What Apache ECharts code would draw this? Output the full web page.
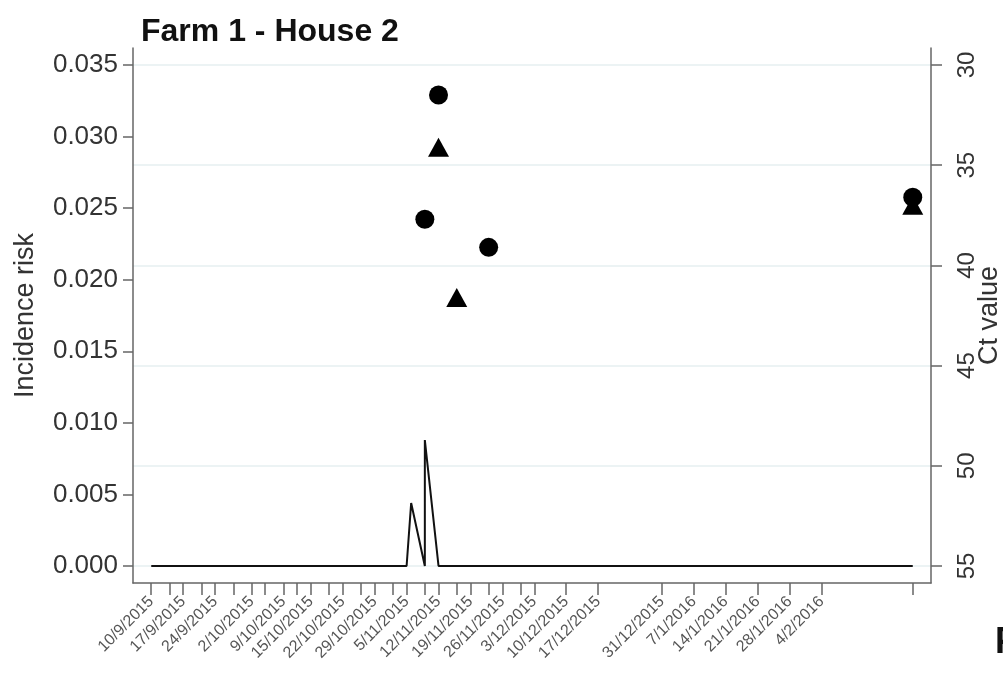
<!DOCTYPE html>
<html>
<head>
<meta charset="utf-8">
<script src="https://cdn.jsdelivr.net/npm/echarts@6/dist/echarts.min.js"></script>
<style>
html, body { margin: 0; padding: 0; background: #fff; }
#chart { width: 1003px; height: 675px; }
</style>
</head>
<body>
<div id="chart"></div>
<script>
// sampling dates = every tick on the x axis
const sampleDates = [
  '2015-09-10', '2015-09-14', '2015-09-17', '2015-09-21', '2015-09-24', '2015-09-28',
  '2015-10-02', '2015-10-05', '2015-10-09', '2015-10-12', '2015-10-15', '2015-10-19',
  '2015-10-22', '2015-10-26', '2015-10-29', '2015-11-02', '2015-11-05', '2015-11-09',
  '2015-11-12', '2015-11-16', '2015-11-19', '2015-11-23', '2015-11-26', '2015-11-30',
  '2015-12-03', '2015-12-10', '2015-12-17', '2015-12-31', '2016-01-07', '2016-01-14',
  '2016-01-21', '2016-01-28', '2016-02-04', '2016-02-24'
]
// dates that get a label
const labelDates = [
  '2015-09-10', '2015-09-17', '2015-09-24', '2015-10-02', '2015-10-09', '2015-10-15',
  '2015-10-22', '2015-10-29', '2015-11-05', '2015-11-12', '2015-11-19', '2015-11-26',
  '2015-12-03', '2015-12-10', '2015-12-17', '2015-12-31', '2016-01-07', '2016-01-14',
  '2016-01-21', '2016-01-28', '2016-02-04'
]

// incidence risk (left axis)
const lineDates = [
  '2015-09-10', '2015-09-14', '2015-09-17', '2015-09-21', '2015-09-24', '2015-09-28',
  '2015-10-02', '2015-10-05', '2015-10-09', '2015-10-12', '2015-10-15', '2015-10-19',
  '2015-10-22', '2015-10-26', '2015-10-29', '2015-11-02', '2015-11-05', '2015-11-06',
  '2015-11-09', '2015-11-09', '2015-11-12', '2015-11-16', '2015-11-19', '2015-11-23',
  '2015-11-26', '2015-11-30', '2015-12-03', '2015-12-10', '2015-12-17', '2015-12-31',
  '2016-01-07', '2016-01-14', '2016-01-21', '2016-01-28', '2016-02-04', '2016-02-24'
]
const incidence = [
  0, 0, 0, 0, 0, 0,
  0, 0, 0, 0, 0, 0,
  0, 0, 0, 0, 0, 0.0044,
  0, 0.0088, 0, 0, 0, 0,
  0, 0, 0, 0, 0, 0,
  0, 0, 0, 0, 0, 0
]

// Ct values (right axis)
const circleDates = ['2015-11-09', '2015-11-12', '2015-11-23', '2016-02-24']
const circleCt = [37.7, 31.5, 39.1, 36.6]
const triangleDates = ['2015-11-12', '2015-11-16', '2016-02-24']
const triangleCt = [34.1, 41.6, 37.0]

const riskTicks = [0, 0.005, 0.01, 0.015, 0.02, 0.025, 0.03, 0.035]
const ctTicks = [30, 35, 40, 45, 50, 55]

// x axis counts days from the first sampling date
const DAY = 86400000
function utc (s) {
  const p = s.split('-')
  return Date.UTC(+p[0], +p[1] - 1, +p[2])
}
const t0 = utc(sampleDates[0])
function dayNo (s) {
  return Math.round((utc(s) - t0) / DAY)
}
function pairs (dates, vals) {
  return dates.map((d, i) => [dayNo(d), vals[i]])
}
function dayLabel (v) {
  const d = new Date(t0 + v * DAY)
  return d.getUTCDate() + '/' + (d.getUTCMonth() + 1) + '/' + d.getUTCFullYear()
}

const axisColor = '#666'
const textColor = '#333'
const font = 'Liberation Sans, Arial, sans-serif'

const myChart = echarts.init(document.getElementById('chart'))
myChart.setOption({
  backgroundColor: '#fff',
  animation: false,
  title: [{
    text: 'Farm 1 - House 2',
    left: 136,
    top: 11,
    textStyle: { fontFamily: font, fontSize: 32, fontWeight: 'bold', color: '#111' }
  }, {
    // edge of the next panel, cut off
    text: 'F',
    left: 990,
    top: 620,
    textStyle: { fontFamily: font, fontSize: 36, fontWeight: 'bold', color: '#111' }
  }],
  grid: { left: 133, right: 72, top: 48, bottom: 92, outerBoundsMode: 'none', containLabel: false },
  xAxis: {
    type: 'value',
    min: -4,
    max: dayNo(sampleDates[sampleDates.length - 1]) + 4,
    axisLine: { onZero: false, lineStyle: { color: axisColor, width: 1.5 } },
    axisTick: {
      length: 12,
      lineStyle: { color: axisColor, width: 1.5 },
      customValues: sampleDates.map(dayNo)
    },
    axisLabel: {
      rotate: 45,
      margin: 16,
      fontFamily: font,
      fontSize: 16,
      color: '#555',
      customValues: labelDates.map(dayNo),
      formatter: dayLabel
    },
    splitLine: { show: false }
  },
  yAxis: [{
    type: 'value',
    position: 'left',
    min: -0.00119,
    max: 0.03619,
    name: 'Incidence risk',
    nameLocation: 'middle',
    nameRotate: 90,
    nameGap: 94,
    nameMoveOverlap: false,
    nameTextStyle: { fontFamily: font, fontSize: 27, color: textColor },
    axisLine: { show: true, onZero: false, lineStyle: { color: axisColor, width: 1.5 } },
    axisTick: {
      show: true,
      length: 10,
      lineStyle: { color: axisColor, width: 1.5 },
      customValues: riskTicks
    },
    axisLabel: {
      margin: 15,
      fontFamily: font,
      fontSize: 26,
      color: textColor,
      customValues: riskTicks,
      formatter: v => v.toFixed(3)
    },
    splitLine: { show: false }
  }, {
    type: 'value',
    position: 'right',
    inverse: true,
    min: 29.152,
    max: 55.848,
    name: 'Ct value',
    nameLocation: 'middle',
    nameRotate: 90,
    nameGap: 45,
    nameMoveOverlap: false,
    nameTextStyle: { fontFamily: font, fontSize: 27, color: textColor },
    axisLine: { show: true, onZero: false, lineStyle: { color: axisColor, width: 1.5 } },
    axisTick: {
      show: true,
      length: 11,
      lineStyle: { color: axisColor, width: 1.5 },
      customValues: ctTicks
    },
    axisLabel: {
      rotate: 90,
      margin: 24,
      fontFamily: font,
      fontSize: 24,
      color: textColor,
      customValues: ctTicks
    },
    splitLine: { show: true, lineStyle: { color: '#e6eff1', width: 1.5 } }
  }],
  series: [{
    name: 'Incidence risk',
    type: 'line',
    yAxisIndex: 0,
    symbol: 'none',
    lineStyle: { color: '#111', width: 2 },
    data: pairs(lineDates, incidence),
    z: 3
  }, {
    name: 'Ct (circle)',
    type: 'scatter',
    yAxisIndex: 1,
    symbol: 'circle',
    symbolSize: 19,
    itemStyle: { color: '#000', opacity: 1 },
    data: pairs(circleDates, circleCt),
    z: 4
  }, {
    name: 'Ct (triangle)',
    type: 'scatter',
    yAxisIndex: 1,
    symbol: 'triangle',
    symbolSize: [21, 19],
    itemStyle: { color: '#000', opacity: 1 },
    data: pairs(triangleDates, triangleCt),
    z: 4
  }]
})
</script>
</body>
</html>
